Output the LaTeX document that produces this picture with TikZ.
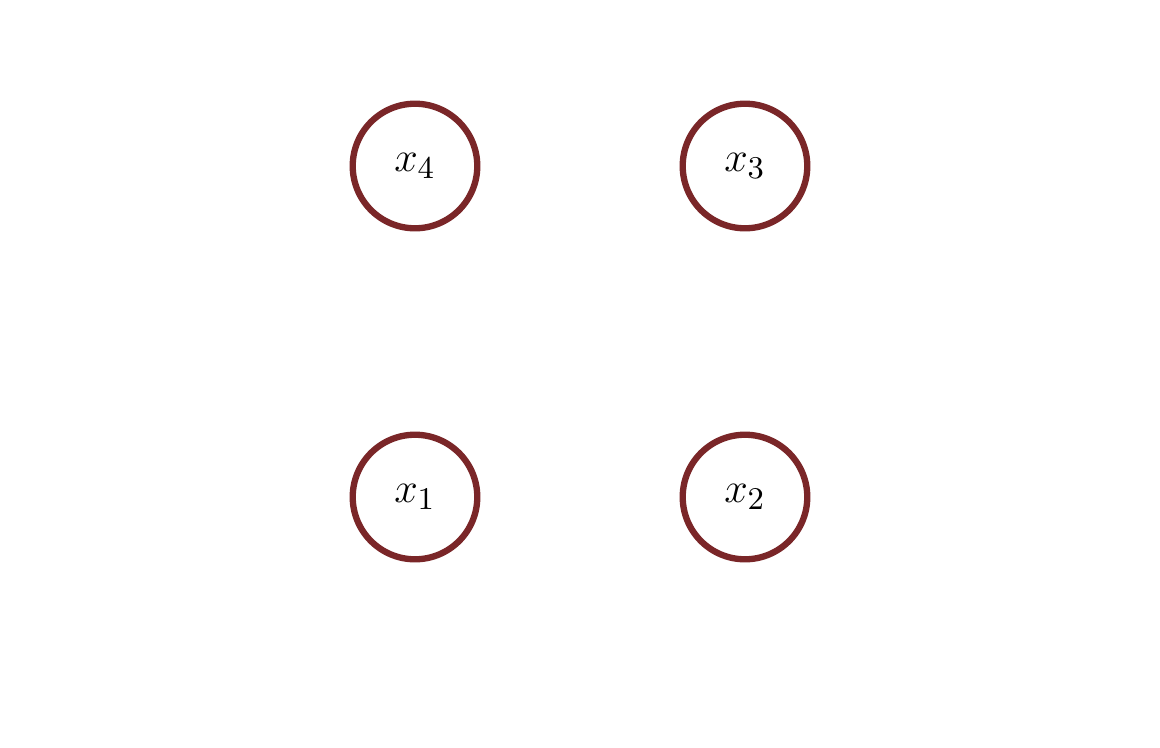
\documentclass[tikz,border=0pt]{standalone}
\definecolor{ringred}{RGB}{122,38,40}
\begin{document}
\begin{tikzpicture}[x=0.01cm,y=0.01cm,
  var/.style={circle,draw=ringred,line width=1.8pt,minimum size=1.245cm,inner sep=0pt,font=\fontsize{12.8}{15}\selectfont}]
\useasboundingbox (0,0) rectangle (1160,747);
\node[var] (x4) at (415,581) {$x_4$};
\node[var] (x3) at (745,581) {$x_3$};
\node[var] (x1) at (415,250) {$x_1$};
\node[var] (x2) at (745,250) {$x_2$};
\end{tikzpicture}
\end{document}
